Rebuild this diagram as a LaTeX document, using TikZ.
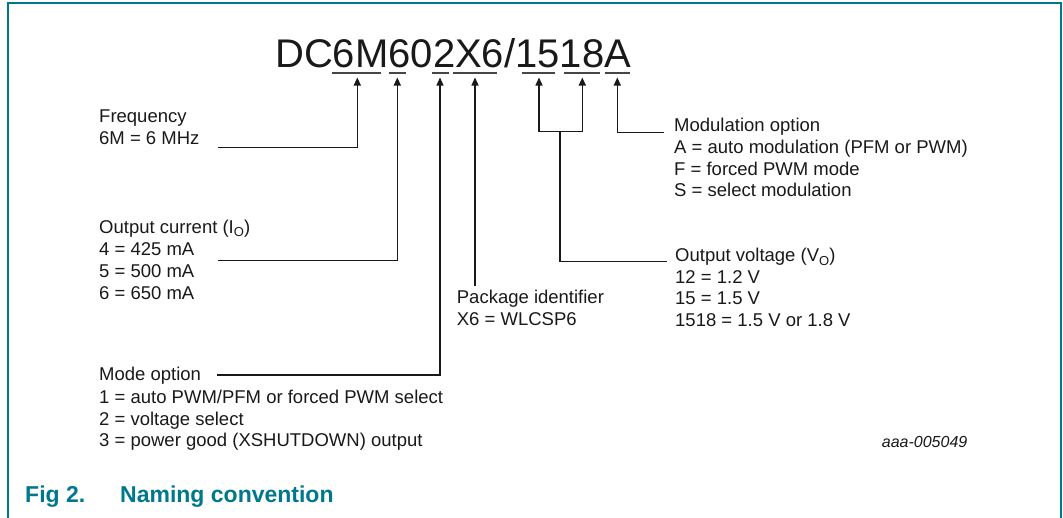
\documentclass[tikz,border=0pt]{standalone}
\usepackage{fontspec}
\setmainfont{Liberation Sans}
\usetikzlibrary{arrows.meta}
\definecolor{nxpteal}{RGB}{0,120,140}
\definecolor{ulgray}{RGB}{70,70,70}
\tikzset{
  txt/.style={anchor=base west, inner sep=0pt, font=\fontsize{18.5}{22}\selectfont, text=black!90},
  bigtxt/.style={anchor=base west, inner sep=0pt, font=\fontsize{40}{44}\selectfont, text=black!90},
  figcap/.style={anchor=base west, inner sep=0pt, font=\fontsize{23}{26}\selectfont\bfseries, text=nxpteal},
  idtxt/.style={anchor=base west, inner sep=0pt, font=\fontsize{16}{18}\selectfont\itshape, text=black!90},
  uline/.style={draw=ulgray, line width=2pt},
  conn/.style={draw=black!90, line width=1.3pt},
  arr/.style={conn, -{Triangle[length=8pt,width=7pt]}},
  outerframe/.style={draw=nxpteal, line width=2pt}
}
\newcommand{\sbO}{{\fontsize{13}{13}\selectfont\raisebox{-3.5pt}{O}}}
\begin{document}
\begin{tikzpicture}[x=1pt,y=-1pt]
\useasboundingbox (0,0) rectangle (1063,517);
% frame
\draw[outerframe] (7.5,530) -- (7.5,2.5) -- (1061,2.5) -- (1061,530);
% part number
\node[bigtxt] (pn) at (275,67) {DC6M602X6/1518A};
% underline end points
\coordinate (u1a) at (331.7,72.7); \coordinate (u1b) at (380.7,72.7);
\coordinate (u2a) at (389.3,72.7); \coordinate (u2b) at (406,72.7);
\coordinate (u3a) at (431.7,72.7); \coordinate (u3b) at (449,72.7);
\coordinate (u4a) at (453.3,72.7); \coordinate (u4b) at (497.3,72.7);
\coordinate (u5a) at (521.7,72.7); \coordinate (u5b) at (555,72.7);
\coordinate (u6a) at (564.3,72.7); \coordinate (u6b) at (600,72.7);
\coordinate (u7a) at (605,72.7);   \coordinate (u7b) at (630,72.7);
\foreach \i in {1,...,7} { \draw[uline] (u\i a) -- (u\i b); }
% arrow tips
\coordinate (t1) at (357.3,77.5);
\coordinate (t2) at (397.3,77.5);
\coordinate (t3) at (440,77.5);
\coordinate (t4) at (475,77.5);
\coordinate (t5) at (539,77.5);
\coordinate (t6) at (582.3,77.5);
\coordinate (t7) at (617.3,77.5);
% Frequency
\node[txt] (fq1) at (99,122.3) {Frequency};
\node[txt] (fq2) at (99,144.3) {6M = 6 MHz};
\coordinate (fqs) at (217.7,147.3);
\draw[arr] (fqs) -- (t1 |- fqs) -- (t1);
% Output current
\node[txt] (oc1) at (99,233.3) {Output current (I\sbO)};
\node[txt] (oc2) at (99,255.7) {4 = 425 mA};
\node[txt] (oc3) at (99,277.7) {5 = 500 mA};
\node[txt] (oc4) at (99,299.5) {6 = 650 mA};
\coordinate (ocs) at (217.7,260.7);
\draw[arr] (ocs) -- (t2 |- ocs) -- (t2);
% Mode option
\node[txt] (mo1) at (99,380.7) {Mode option};
\node[txt] (mo2) at (99,403.3) {1 = auto PWM/PFM or forced PWM select};
\node[txt] (mo3) at (99,425) {2 = voltage select};
\node[txt] (mo4) at (99,446.7) {3 = power good (XSHUTDOWN) output};
\coordinate (mos) at (217.3,375);
\draw[arr] (mos) -- (t3 |- mos) -- (t3);
% Package identifier
\node[txt] (pk1) at (456.7,303.3) {Package identifier};
\node[txt] (pk2) at (456.7,325) {X6 = WLCSP6};
\coordinate (pks) at (475,286);
\draw[arr] (pks) -- (t4);
% Output voltage
\node[txt] (ov1) at (675,261.7) {Output voltage (V\sbO)};
\node[txt] (ov2) at (675,283.3) {12 = 1.2 V};
\node[txt] (ov3) at (675,304.5) {15 = 1.5 V};
\node[txt] (ov4) at (675,326) {1518 = 1.5 V or 1.8 V};
\coordinate (ovs) at (666.7,261.7);
\coordinate (ovm) at (560,131.7);
\draw[conn] (ovs) -- (ovm |- ovs) -- (ovm);
\draw[arr] (ovm) -- (t5 |- ovm) -- (t5);
\draw[arr] (ovm) -- (t6 |- ovm) -- (t6);
% Modulation option
\node[txt] (md1) at (674,131.7) {Modulation option};
\node[txt] (md2) at (674,153.3) {A = auto modulation (PFM or PWM)};
\node[txt] (md3) at (674,175) {F = forced PWM mode};
\node[txt] (md4) at (674,196.7) {S = select modulation};
\coordinate (mds) at (664.3,132.3);
\draw[arr] (mds) -- (t7 |- mds) -- (t7);
% id and caption
\node[idtxt] (id) at (881.7,447.3) {aaa-005049};
\node[figcap] (fig) at (25,502.7) {Fig 2.};
\node[figcap] (title) at (120,502.7) {Naming convention};
\end{tikzpicture}
\end{document}
